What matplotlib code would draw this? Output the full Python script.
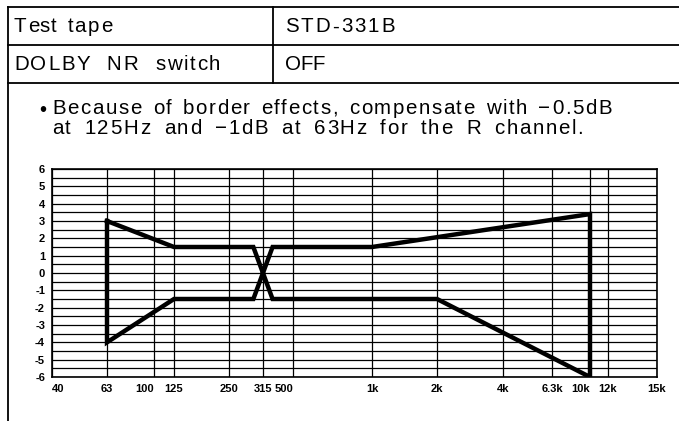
import numpy as np
import matplotlib.pyplot as plt
from matplotlib.lines import Line2D
from matplotlib.font_manager import FontProperties

# frequency ticks of the printed grid (Hz) and their labels
tick_freqs = [40, 63, 100, 125, 250, 315, 500, 1000, 2000, 4000, 6300, 10000, 12000, 15000]
tick_labels = ["40", "63", "100", "125", "250", "315", "500", "1k", "2k", "4k", "6.3k", "10k", "12k", "15k"]
# where each grid line sits along the axis (chart is hand ruled, not true log)
grid_pos = [0, 55, 102, 122, 177, 211, 241, 320, 385, 451, 500, 538, 556, 605]

# tolerance limits (dB)
limit_a_freq = [63, 125, 295, 365, 2000, 10000]
limit_a_db = [3, 1.5, 1.5, -1.5, -1.5, -6]
limit_b_freq = [63, 125, 295, 365, 1000, 10000]
limit_b_db = [-4, -1.5, -1.5, 1.5, 1.5, 3.4]

y_ticks = np.arange(-6, 7, 1)

log_t = np.log10(tick_freqs)


def fwd(f):
    f = np.clip(np.asarray(f, dtype=float), 1e-3, None)
    return np.interp(np.log10(f), log_t, grid_pos)


def inv(p):
    return 10 ** np.interp(p, grid_pos, log_t)


plt.rcParams["font.family"] = ["Liberation Sans", "DejaVu Sans"]

fig = plt.figure(figsize=(6.79, 4.21), dpi=100)
W, H = 679, 421
renderer = fig.canvas.get_renderer()


def hline(y, x0, x1, lw=1.3):
    fig.add_artist(Line2D([x0 / W, x1 / W], [1 - y / H, 1 - y / H], color="black", lw=lw))


def vline(x, y0, y1, lw=1.3):
    fig.add_artist(Line2D([x / W, x / W], [1 - y0 / H, 1 - y1 / H], color="black", lw=lw))


def text_w(s, prop):
    if not s:
        return 0.0
    return renderer.get_text_width_height_descent(s, prop, ismath=False)[0]


def spaced_text(x0, x1, y, s, size, track=1.6):
    # letters get a small fixed track, word gaps take up the rest to reach x1
    prop = FontProperties(family=["Liberation Sans"], size=size)
    natural = text_w(s, prop)
    n_sp = s.count(" ")
    left = x1 - x0 - natural - track * (len(s) - 1)
    sp_extra = left / n_sp if n_sp else 0.0
    if not n_sp and len(s) > 1:
        track += left / (len(s) - 1)
    n_seen = 0
    for i, ch in enumerate(s):
        if ch == " ":
            n_seen += 1
            continue
        x = x0 + text_w(s[:i], prop) + track * i + sp_extra * n_seen
        fig.text(x / W, 1 - y / H, ch, fontproperties=prop, va="center")


# header table
hline(7, 8, 679)
hline(45, 8, 679)
hline(83, 8, 679)
vline(8, 7, 421)
vline(273, 7, 83)

fs = 14.8
spaced_text(14, 112, 27, "Test tape", fs)
spaced_text(285, 395, 27, "STD-331B", fs)
spaced_text(14, 220, 65, "DOLBY NR switch", fs)
spaced_text(285, 325, 65, "OFF", fs)
fig.text(43 / W, 1 - 111 / H, "\u2022", fontsize=fs, va="center", ha="center")
spaced_text(52, 612, 108, "Because of border effects, compensate with \u22120.5dB", fs)
spaced_text(52, 583, 128, "at 125Hz and \u22121dB at 63Hz for the R channel.", fs)

ax = fig.add_axes([52 / W, 1 - 377 / H, 605 / W, 208 / H])
ax.set_xscale("function", functions=(fwd, inv))
ax.set_xlim(40, 15000)
ax.set_ylim(-6, 6)

# grid: every 0.5 dB horizontally, every labelled frequency vertically
for y in np.arange(-6, 6.01, 0.5):
    ax.axhline(y, color="black", lw=0.9, zorder=1)
for f in tick_freqs:
    ax.axvline(f, color="black", lw=0.9, zorder=1)

# limit outline: limit A, then limit B back to the start
poly_f = limit_a_freq + limit_b_freq[::-1] + [limit_a_freq[0]]
poly_db = limit_a_db + limit_b_db[::-1] + [limit_a_db[0]]
ax.plot(poly_f, poly_db, color="black", lw=3.2, solid_joinstyle="miter", zorder=3)

ax.set_xticks(tick_freqs)
ax.set_xticklabels(tick_labels)
ax.xaxis.set_minor_locator(plt.NullLocator())
ax.set_yticks(y_ticks)
ax.set_yticklabels([str(v) for v in y_ticks])
ax.tick_params(length=0, labelsize=8, pad=5)
for lab in ax.get_xticklabels() + ax.get_yticklabels():
    lab.set_fontweight("bold")
xlabs = ax.get_xticklabels()
xlabs[0].set_horizontalalignment("left")
for i in (2, 6, 11):
    xlabs[i].set_horizontalalignment("right")
for s in ax.spines.values():
    s.set_linewidth(1.2)

fig.savefig("out.png", dpi=100)
